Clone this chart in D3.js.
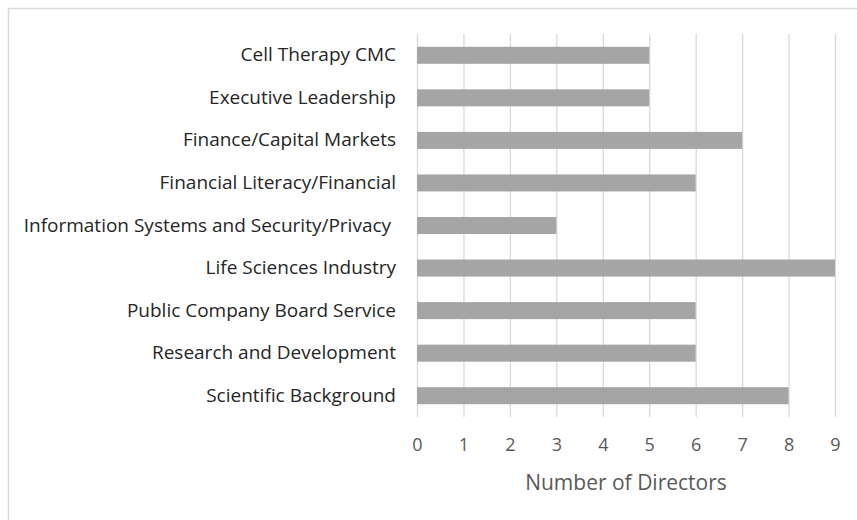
<!DOCTYPE html>
<html>
<head>
<meta charset="utf-8">
<script src="https://cdn.jsdelivr.net/npm/d3@7"></script>
<style>
  body { margin: 0; background: #fff; }
  svg { display: block; }
</style>
</head>
<body>
<svg id="drawing_region"></svg>
<script>
const categories = [
  "Cell Therapy CMC",
  "Executive Leadership",
  "Finance/Capital Markets",
  "Financial Literacy/Financial",
  "Information Systems and Security/Privacy ",
  "Life Sciences Industry",
  "Public Company Board Service",
  "Research and Development",
  "Scientific Background"
];
const values = [5, 5, 7, 6, 3, 9, 6, 6, 8];
const ticks = [0, 1, 2, 3, 4, 5, 6, 7, 8, 9];
const axisTitle = "Number of Directors";

const font = '"Open Sans", Lato, sans-serif';
const width = 857;
const height = 520;
const margin = {top: 34, right: 22, bottom: 103, left: 417};

const svg = d3.select('#drawing_region')
    .attr('width', width)
    .attr('height', height);

// chart frame
svg.append('rect')
    .attr('x', 8.5).attr('y', 8.5)
    .attr('width', width + 10).attr('height', height + 10)
    .attr('fill', 'none')
    .attr('stroke', '#d9d9d9')
    .attr('stroke-width', 1.5);

const chart = svg.append('g')
    .attr('transform', `translate(${margin.left}, ${margin.top})`);

const inner_width = width - margin.left - margin.right;
const inner_height = height - margin.top - margin.bottom;

const xscale = d3.scaleLinear()
    .domain([0, 9])
    .range([0, inner_width]);

const yscale = d3.scaleBand()
    .domain(categories)
    .range([0, inner_height])
    .paddingInner(0.6)
    .paddingOuter(0.3);

// gridlines
chart.append('g')
    .selectAll('line')
    .data(ticks)
    .enter()
    .append('line')
    .attr('x1', d => xscale(d) + 0.5)
    .attr('x2', d => xscale(d) + 0.5)
    .attr('y1', 0)
    .attr('y2', inner_height)
    .attr('stroke', '#d9d9d9')
    .attr('stroke-width', 1.3);

// bars
chart.selectAll('rect.bar').data(values).enter()
    .append('rect')
    .attr('class', 'bar')
    .attr('x', 0)
    .attr('y', (d, i) => yscale(categories[i]))
    .attr('width', d => xscale(d))
    .attr('height', yscale.bandwidth())
    .attr('fill', '#a5a5a5');

// x axis
const xaxis = d3.axisBottom(xscale)
    .tickValues(ticks)
    .tickSize(0)
    .tickPadding(21);
const xg = chart.append('g')
    .attr('transform', `translate(0, ${inner_height})`)
    .call(xaxis)
    .attr('font-family', font)
    .attr('font-size', 18);
xg.select('.domain').remove();
xg.selectAll('text')
    .attr('fill', '#595959');

// y axis
const yaxis = d3.axisLeft(yscale)
    .tickSize(0)
    .tickPadding(21);
const yg = chart.append('g')
    .call(yaxis)
    .attr('font-family', font)
    .attr('font-size', 19);
yg.select('.domain').remove();
yg.selectAll('text')
    .attr('fill', '#262626')
    .style('white-space', 'pre');

// axis title
chart.append('text')
    .attr('x', inner_width / 2)
    .attr('y', inner_height + 73)
    .attr('text-anchor', 'middle')
    .attr('font-family', font)
    .attr('font-size', 21)
    .attr('fill', '#595959')
    .text(axisTitle);
</script>
</body>
</html>
